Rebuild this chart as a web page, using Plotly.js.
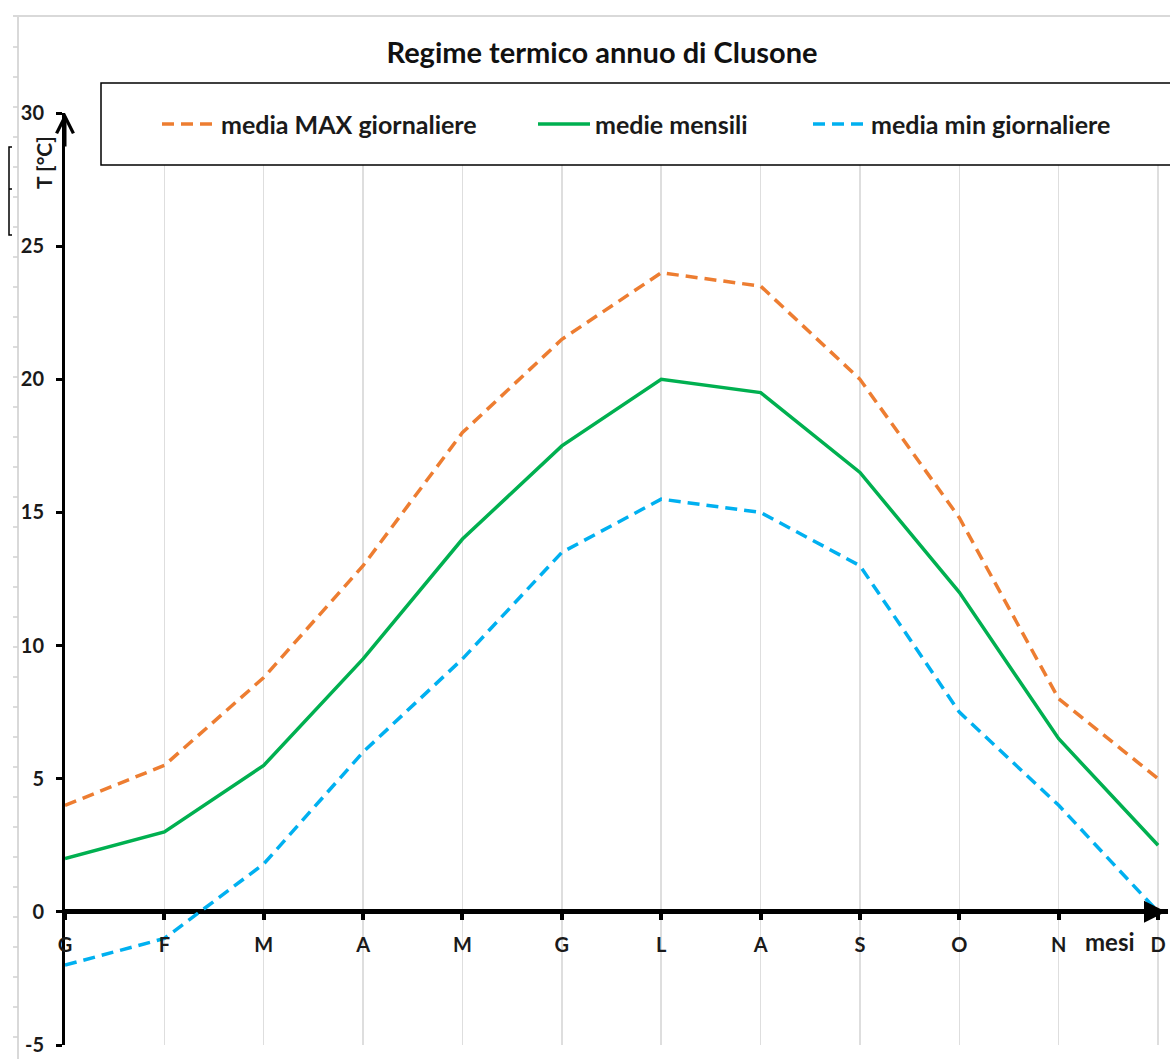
<!DOCTYPE html>
<html>
<head>
<meta charset="utf-8">
<script src="https://cdn.plot.ly/plotly-3.0.1.min.js"></script>
<style>html,body{margin:0;padding:0;background:#fff;}#chart{width:1170px;height:1059px;}</style>
</head>
<body>
<div id="chart"></div>
<script>
// ---- data ----
const months = ['G','F','M','A','M','G','L','A','S','O','N','D'];
const monthIdx = [0,1,2,3,4,5,6,7,8,9,10,11];
const tMax  = [4.0, 5.5, 8.8, 13.0, 18.0, 21.5, 24.0, 23.5, 20.0, 14.8, 8.0, 5.0];
const tMean = [2.0, 3.0, 5.5, 9.5, 14.0, 17.5, 20.0, 19.5, 16.5, 12.0, 6.5, 2.5];
const tMin  = [-2.0, -1.0, 1.8, 6.0, 9.5, 13.5, 15.5, 15.0, 13.0, 7.5, 4.0, 0.0];
const seriesNames = ['media MAX giornaliere', 'medie mensili', 'media min giornaliere'];
const yTicks = [-5, 0, 5, 10, 15, 20, 25, 30];
const chartTitle = 'Regime termico annuo di Clusone';
const yTitle = 'T [°C]';
const xTitle = 'mesi';

// ---- styling ----
const W = 1170, H = 1059;
const M = {l: 65, r: 2, t: 113, b: 14};
const PW = W - M.l - M.r, PH = H - M.t - M.b;
const FONT = 'Lato, "Open Sans", sans-serif';
const TXT = '#1a1a1a';
const colors = ['#ED7D31', '#00B050', '#00B0F0'];
const dashes = ['12px,7px', 'solid', '12px,7px'];
const px2x = p => (p - M.l) / PW;
const py2y = p => (H - M.b - p) / PH;

const seriesVals = [tMax, tMean, tMin];
const traces = seriesVals.map((vals, i) => ({
  type: 'scatter', mode: 'lines', x: monthIdx, y: vals, name: seriesNames[i],
  line: {color: colors[i], width: 3.5, dash: dashes[i]},
  showlegend: false, hoverinfo: 'skip'
}));

const shapes = [];
// chart-frame remnants (light grey)
shapes.push({type:'line', xref:'paper', yref:'paper', x0:px2x(13), x1:px2x(1170), y0:py2y(16), y1:py2y(16), line:{color:'#d9d9d9', width:2}});
shapes.push({type:'line', xref:'paper', yref:'paper', x0:px2x(18), x1:px2x(18), y0:py2y(16), y1:py2y(1059), line:{color:'#d9d9d9', width:2}});
for (let p = 47; p < 1059; p += 30) {
  shapes.push({type:'line', xref:'paper', yref:'paper', x0:px2x(13), x1:px2x(18), y0:py2y(p), y1:py2y(p), line:{color:'#d0d0d0', width:1.5}});
}
// small bracket remnant
shapes.push({type:'path', xref:'paper', yref:'paper',
  path: 'M' + px2x(12) + ',' + py2y(147) + ' L' + px2x(9) + ',' + py2y(147) + ' L' + px2x(9) + ',' + py2y(235) + ' L' + px2x(12) + ',' + py2y(235),
  line:{color:'#000', width:1.5}});
shapes.push({type:'line', xref:'paper', yref:'paper', x0:px2x(9), x1:px2x(12), y0:py2y(189), y1:py2y(189), line:{color:'#000', width:1.5}});

// legend box
shapes.push({type:'rect', xref:'paper', yref:'paper', layer:'above',
  x0:px2x(101), x1:px2x(1180), y0:py2y(165), y1:py2y(83),
  fillcolor:'#fff', line:{color:'#000', width:1.5}});
const legSample = [[162, 215], [538, 590], [813, 866]];
const legText = [219, 593, 869];
const legY = 124;
seriesNames.forEach((n, i) => {
  shapes.push({type:'line', xref:'paper', yref:'paper', layer:'above',
    x0:px2x(legSample[i][0]), x1:px2x(legSample[i][1]), y0:py2y(legY), y1:py2y(legY),
    line:{color:colors[i], width:3.5, dash: dashes[i]}});
});

const annotations = seriesNames.map((n, i) => ({
  xref:'paper', yref:'paper', x:px2x(legText[i]), y:py2y(legY), xanchor:'left', yanchor:'middle',
  text:n, showarrow:false, font:{family:FONT, size:25, color:TXT, weight:'bold'}
}));
annotations.push({xref:'paper', yref:'paper', x:px2x(44), y:py2y(163), xanchor:'center', yanchor:'middle',
  text:yTitle, textangle:-90, showarrow:false, font:{family:FONT, size:21, color:TXT, weight:'bold'}});
annotations.push({xref:'paper', yref:'paper', x:px2x(1110), y:py2y(941), xanchor:'center', yanchor:'middle',
  text:xTitle, showarrow:false, font:{family:FONT, size:24, color:TXT, weight:'bold'}});
// axis arrows
annotations.push({xref:'x', yref:'y', x:11.08, y:0, ax:-30, ay:0, text:'', showarrow:true,
  arrowhead:2, arrowsize:1.1, arrowwidth:4, arrowcolor:'#000'});
annotations.push({xref:'paper', yref:'y', x:0, y:30, ax:0, ay:35, text:'', showarrow:true,
  arrowhead:5, arrowsize:1.1, arrowwidth:3, arrowcolor:'#000'});

const layout = {
  width: W, height: H,
  margin: M,
  paper_bgcolor:'#fff', plot_bgcolor:'#fff',
  showlegend:false,
  title: {text: chartTitle, x: 602 / W, xref:'container', xanchor:'center', y: 1 - 53 / H, yref:'container', yanchor:'middle',
    font:{family:FONT, size:29, color:'#111', weight:'bold'}},
  xaxis: {
    range:[0, 11.1], anchor:'free', position: 5/35,
    tickvals: monthIdx, ticktext: months,
    showgrid:true, gridcolor:'#dedede', gridwidth:1.5,
    zeroline:false, showline:false,
    ticks:'outside', ticklen:7, tickwidth:4, tickcolor:'#000',
    ticklabelstandoff: 8,
    tickfont:{family:FONT, size:20, color:TXT, weight:'bold'}
  },
  xaxis2: {
    range:[0, 11.1], overlaying:'x', anchor:'free', position: 5/35,
    tickvals: monthIdx, showticklabels:false, showgrid:false, zeroline:false, showline:false,
    ticks:'inside', ticklen:7, tickwidth:4, tickcolor:'#000'
  },
  yaxis: {
    range:[-5, 30], tickvals: yTicks, ticktext: yTicks.map(String),
    showgrid:false, zeroline:true, zerolinecolor:'#000', zerolinewidth:5,
    showline:true, linecolor:'#000', linewidth:3,
    ticks:'outside', ticklen:6, tickwidth:3, tickcolor:'#000',
    ticklabelstandoff: 8,
    tickfont:{family:FONT, size:20, color:TXT, weight:'bold'}
  },
  yaxis2: {
    range:[-5, 30], overlaying:'y', anchor:'x', side:'left', tickvals: yTicks,
    showticklabels:false, showgrid:false, zeroline:false, showline:false,
    ticks:'inside', ticklen:6, tickwidth:3, tickcolor:'#000'
  },
  shapes: shapes,
  annotations: annotations
};

Plotly.newPlot('chart', traces, layout, {staticPlot:true, displayModeBar:false});
</script>
</body>
</html>
